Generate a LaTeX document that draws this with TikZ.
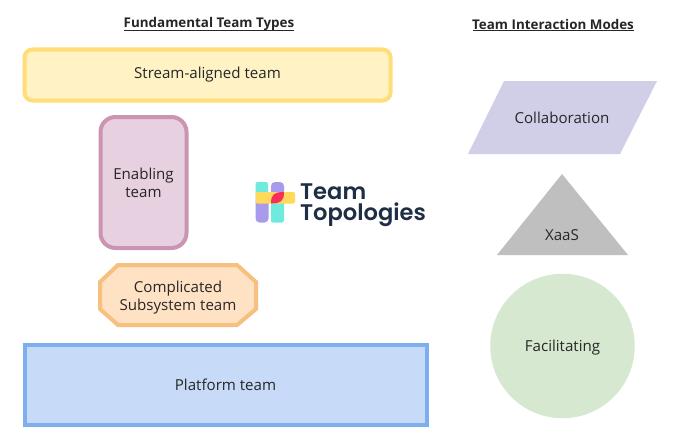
\documentclass[tikz,border=0pt]{standalone}
\usepackage{fontspec}
\setmainfont{Open Sans}
\newfontfamily\logofont[BoldFont={Poppins SemiBold}]{Poppins}
\definecolor{inkdark}{HTML}{262626}
\definecolor{streamfill}{HTML}{FFF2C4}
\definecolor{streamline}{HTML}{FFDD77}
\definecolor{enablefill}{HTML}{E7D0DF}
\definecolor{enableline}{HTML}{CB94B2}
\definecolor{subsysfill}{HTML}{FFE1C4}
\definecolor{subsysline}{HTML}{F7C07F}
\definecolor{platfill}{HTML}{C7DAF7}
\definecolor{platline}{HTML}{7FAEEE}
\definecolor{collabfill}{HTML}{D1CFE8}
\definecolor{xaasfill}{HTML}{BFBFBF}
\definecolor{facilfill}{HTML}{D6E8D0}
\definecolor{logonavy}{HTML}{1F2D45}
\definecolor{logoteal}{HTML}{6FEBDD}
\definecolor{logopurple}{HTML}{A99BEB}
\definecolor{logoyellow}{HTML}{FFD95C}
\definecolor{logopink}{HTML}{F5305F}
\tikzset{
  label/.style={font=\fontsize{15.1}{18}\selectfont, text=inkdark, align=center},
  heading/.style={font=\fontsize{13.4}{15}\selectfont\bfseries, text=inkdark},
  team/.style={label, line width=4pt, inner sep=0pt, outer sep=0pt},
  logotext/.style={font=\logofont\fontsize{22.6}{24}\selectfont\bfseries, text=logonavy, anchor=west, inner sep=0pt}
}
\begin{document}
\begin{tikzpicture}[x=1pt,y=-1pt]
\useasboundingbox (0,0) rectangle (700,436);
%% Headings
\node[heading](types) at (209, 24) {Fundamental Team Types};
\node[heading](modes) at (553, 24) {Team Interaction Modes};
\draw[inkdark, line width=0.9pt] (124, 30.5) -- (294, 30.5);
\draw[inkdark, line width=0.9pt] (473, 30.5) -- (634, 30.5);
%% Team types
\node[team, draw=streamline, fill=streamfill, rounded corners=8pt, minimum width=366pt, minimum height=51pt](stream) at (207.5, 75) {Stream-aligned team};
\node[team, draw=enableline, fill=enablefill, rounded corners=15pt, minimum width=86pt, minimum height=131pt](enabling) at (143.5, 182.5) {Enabling\\team};
\draw[subsysline, fill=subsysfill, line width=4pt] (118, 265) -- (237, 265) -- (256, 282) -- (256, 309) -- (237, 325) -- (118, 325) -- (100, 309) -- (100, 282) -- cycle;
\node[label](subsystem) at (178, 297.5) {Complicated\\Subsystem team};
\node[team, draw=platline, fill=platfill, minimum width=402pt, minimum height=80pt](platform) at (225.5, 385) {Platform team};
%% Interaction modes
\fill[collabfill] (504, 81) -- (657, 81) -- (620, 154) -- (468, 154) -- cycle;
\fill[xaasfill] (562, 174) -- (628, 255) -- (497, 255) -- cycle;
\node[circle, fill=facilfill, inner sep=0pt, minimum size=144.5pt](facilitating) at (562.5, 346) {};
\node[label](collaboration) at (562, 118) {Collaboration};
\node[label](xaas) at (562, 235.5) {XaaS};
\node[label](facilitatinglabel) at (562.5, 348) {Facilitating};
%% Logo
\fill[logoteal, rounded corners=2pt] (255.5, 182) rectangle (268, 200);
\fill[logopurple, rounded corners=4pt] (255.5, 196) -- (255.5, 222.5) -- (268.5, 222.5) -- (268.5, 196) -- cycle;
\fill[logopurple, rounded corners=4pt] (271, 182) -- (284, 182) -- (284, 200) -- (271, 200) -- cycle;
\fill[logoteal, rounded corners=2pt] (271, 196) rectangle (284, 222.5);
\fill[logoyellow, rounded corners=2pt] (255.5, 192) rectangle (295, 203.5);
\fill[logopink] (271, 203.5) to[out=90, in=180, looseness=1.4] (284, 192) to[out=-90, in=0, looseness=1.4] cycle;
\node[logotext](logoone) at (300, 192) {Team};
\node[logotext](logotwo) at (300, 215) {Topologies};
\end{tikzpicture}
\end{document}
